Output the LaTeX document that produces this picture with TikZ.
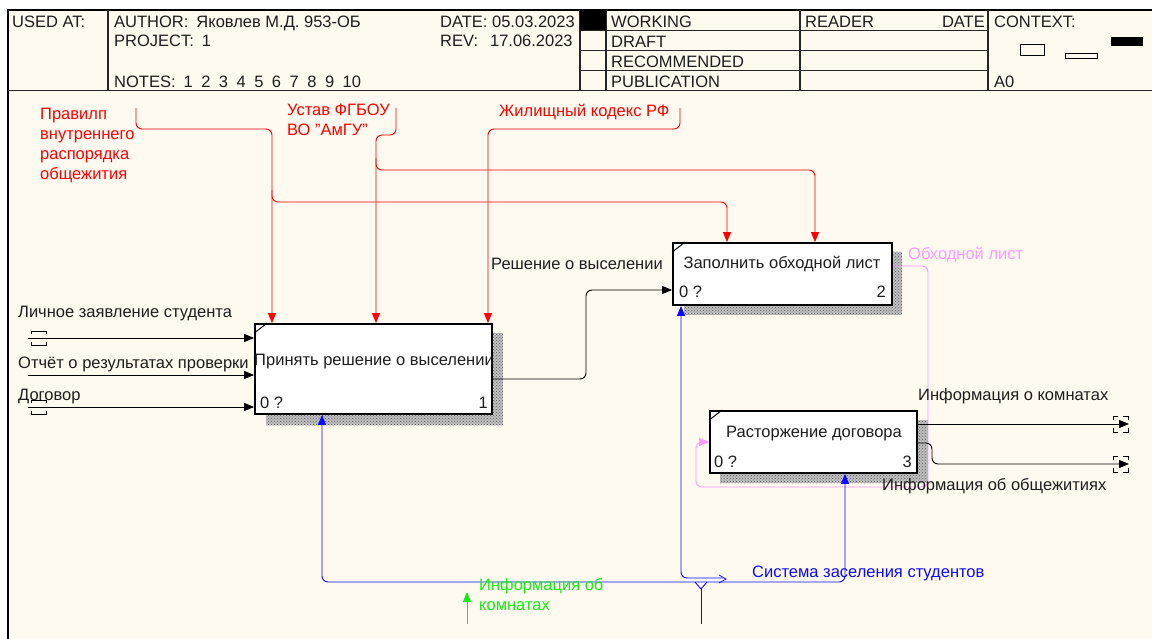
\documentclass[tikz,border=0pt]{standalone}
\usepackage{fontspec}
\setmainfont{Liberation Sans}
\usetikzlibrary{arrows.meta,calc,patterns}

\definecolor{paper}{HTML}{FFFAF0}
\definecolor{ink}{HTML}{1E1E1E}
\definecolor{ctlred}{HTML}{FF0000}
\definecolor{outpink}{HTML}{FF99FF}
\definecolor{mechblue}{HTML}{0A0AFF}
\definecolor{ingreen}{HTML}{11EE11}
\definecolor{hatch}{HTML}{5A5A5A}

\begin{document}
\begin{tikzpicture}[x=1pt,y=-1pt,
  font=\fontsize{16.5}{19}\selectfont,
  txt/.style={anchor=base west,inner sep=0pt,text=ink},
  txtc/.style={anchor=base,inner sep=0pt,text=ink},
  txte/.style={anchor=base east,inner sep=0pt,text=ink},
  actbox/.style={draw=black,line width=1.8pt,fill=white,inner sep=0pt},
  shade/.style={fill=black!25,postaction={pattern=crosshatch dots,pattern color=hatch}},
  tip/.style={-{Triangle[length=10pt,width=8pt]}},
  bothtip/.style={{Triangle[length=10pt,width=8pt]}-{Triangle[length=10pt,width=8pt]}},
  ctl/.style={draw=ctlred,line width=0.9pt,rounded corners=6pt},
  flow/.style={draw=black,line width=0.9pt,rounded corners=6pt},
  loop/.style={draw=outpink,line width=0.9pt,rounded corners=6pt},
  mech/.style={draw=mechblue,line width=0.9pt,rounded corners=6pt},
  hdr/.style={line width=1.2pt,draw=black!85},
  tun/.style={draw=black,line width=0.8pt}]

\useasboundingbox (0,0) rectangle (1152,639);
\fill[white] (0,0) rectangle (1152,639);
\fill[paper] (8,10) rectangle (1152,639);
\draw[line width=1.6pt] (8,639) -- (8,10) -- (1152,10);

% ---------- header frame ----------
\draw[hdr] (8,90.5) -- (1152,90.5);
\foreach \xx in {108,580,606,800,988} \draw[hdr] (\xx,10) -- (\xx,90.5);
\foreach \yy in {30.5,50.5,70.5} \draw[hdr] (580,\yy) -- (988,\yy);
\fill[black] (580,10) rectangle (606,30.5);

\node[txt] (usedat) at (12,28) {USED AT:};
\node[txt] (author) at (114,28) {AUTHOR:\hspace{8pt}Яковлев М.Д. 953-ОБ};
\node[txt] (project) at (114,47) {PROJECT:\hspace{8pt}1};
\node[txt] (notes) at (114,88) {NOTES:\hspace{8pt}1\hspace{8.5pt}2\hspace{8.5pt}3\hspace{8.5pt}4\hspace{8.5pt}5\hspace{8.5pt}6\hspace{8.5pt}7\hspace{8.5pt}8\hspace{8.5pt}9\hspace{8.5pt}10};
\node[txt] (date) at (440,28) {DATE: 05.03.2023};
\node[txt] (rev) at (440,47) {REV:\hspace{12pt}17.06.2023};
\node[txt] (working) at (611,28) {WORKING};
\node[txt] (draft) at (611,48) {DRAFT};
\node[txt] (recom) at (611,68) {RECOMMENDED};
\node[txt] (publ) at (611,88) {PUBLICATION};
\node[txt] (reader) at (805,28) {READER};
\node[txte] (rdate) at (985,28) {DATE};
\node[txt] (context) at (994,28) {CONTEXT:};
\node[txt] (nodeid) at (994,88) {A0};
\draw[line width=0.8pt] (1020,44) rectangle (1044,55);
\draw[line width=0.8pt] (1065,53) rectangle (1097,58);
\fill[black] (1111,37) rectangle (1143,46);

% ---------- activity boxes ----------
\path[shade] (266,333) rectangle (503,425);
\path[shade] (684,252) rectangle (902,315);
\path[shade] (720,420) rectangle (928,483);

\node[actbox,minimum width=237pt,minimum height=90pt] (b1) at (373.5,369) {};
\node[actbox,minimum width=219pt,minimum height=62pt] (b2) at (782.5,274) {};
\node[actbox,minimum width=207pt,minimum height=62pt] (b3) at (813.5,442) {};

\foreach \b in {b1,b2,b3}
  \draw[line width=1pt] ($(\b.north west)+(0,10)$) -- ($(\b.north west)+(13,0)$);

\node[txtc] (b1t) at (374,365) {Принять решение о выселении};
\node[txt] (b1o) at (260,408) {0 ?};
\node[txte] (b1n) at (488,408) {1};
\node[txtc] (b2t) at (782,269) {Заполнить обходной лист};
\node[txt] (b2o) at (679,298) {0 ?};
\node[txte] (b2n) at (886,298) {2};
\node[txtc] (b3t) at (814,437) {Расторжение договора};
\node[txt] (b3o) at (714,467) {0 ?};
\node[txte] (b3n) at (912,467) {3};

% ---------- controls ----------
\coordinate (c1) at (136,108);
\coordinate (j1) at (272,129);
\coordinate (k1) at (727,202);
\coordinate (c2) at (396,108);
\coordinate (j2) at (376,135);
\coordinate (k2) at (815,170);
\coordinate (c3) at (680,108);
\coordinate (j3) at (488,129);

\draw[ctl,tip] (c1) |- (j1) -- (j1 |- b1.north);
\draw[ctl,tip] (272,190) |- (k1) -- (k1 |- b2.north);
\draw[ctl,tip] (c2) |- (j2) -- (j2 |- b1.north);
\draw[ctl,tip] (376,158) |- (k2) -- (k2 |- b2.north);
\draw[ctl,tip] (c3) |- (j3) -- (j3 |- b1.north);

\begin{scope}[every node/.style={anchor=base west,inner sep=0pt,text=ctlred}]
\node (ctl1a) at (40,120) {Правилп};
\node (ctl1b) at (40,140) {внутреннего};
\node (ctl1c) at (40,160) {распорядка};
\node (ctl1d) at (40,180) {общежития};
\node (ctl2a) at (287,116) {Устав ФГБОУ};
\node (ctl2b) at (287,136) {ВО "АмГУ"};
\node (ctl3) at (499,117) {Жилищный кодекс РФ};
\end{scope}

% ---------- inputs ----------
\coordinate (i1) at (28,338);
\coordinate (i2) at (28,375);
\coordinate (i3) at (28,407);
\draw[flow,tip] (i1) -- (i1 -| b1.west);
\draw[flow,tip] (i2) -- (i2 -| b1.west);
\draw[flow,tip] (i3) -- (i3 -| b1.west);
\draw[tun] (31,334) -- (31,331) -- (46,331) -- (46,334);
\draw[tun] (31,342) -- (31,345) -- (46,345) -- (46,342);
\draw[tun] (31,403) -- (31,400) -- (46,400) -- (46,403);
\draw[tun] (31,411) -- (31,414) -- (46,414) -- (46,411);
\node[txt] (in1) at (18,318) {Личное заявление студента};
\node[txt] (in2) at (18,368) {Отчёт о результатах проверки};
\node[txt] (in3) at (18,400) {Договор};

% ---------- decision to clearance sheet ----------
\coordinate (t1) at (586,290);
\draw[flow,tip] ($(b1.east)+(0,10)$) -| (t1) -- (t1 -| b2.west);
\node[txt] (o1) at (491,270) {Решение о выселении};

% ---------- clearance sheet to termination ----------
\coordinate (p1) at (928,487);
\coordinate (p2) at (696,442);
\draw[loop,-{Triangle[length=10pt,width=8pt]}] ($(b2.east)+(0,-8)$) -| (p1) -| (p2) -- (p2 -| b3.west);
\node[anchor=base west,inner sep=0pt,text=outpink] (o2) at (908,260) {Обходной лист};

% ---------- outputs ----------
\coordinate (e1) at (1129,424);
\coordinate (e2) at (1129,464);
\draw[flow,tip] ($(b3.east)+(0,-18)$) -- (e1);
\draw[flow,tip] ($(b3.east)+(0,1)$) -- (932,443) |- (e2);
\foreach \yy in {424,464}{
  \draw[tun] (1118,\yy-8) -- (1113,\yy-8) -- (1113,\yy-4);
  \draw[tun] (1113,\yy+4) -- (1113,\yy+8) -- (1118,\yy+8);
  \draw[tun] (1123,\yy-8) -- (1128,\yy-8) -- (1128,\yy-4);
  \draw[tun] (1128,\yy+4) -- (1128,\yy+8) -- (1123,\yy+8);
}
\node[txt] (out1) at (918,400) {Информация о комнатах};
\node[txt] (out2) at (882,490) {Информация об общежитиях};

% ---------- mechanisms ----------
\coordinate (m0) at (701,624);
\coordinate (m1) at (322,582);
\coordinate (m2) at (845,582);
\coordinate (m3) at (681,578);
\coordinate (m4) at (723,578);
\draw[mech,bothtip] (m1 |- b1.south) -- (m1) -- (m2) -- (m2 |- b3.south);
\draw[mech,tip] (m4) -- (m3) -- (m3 |- b2.south);
\draw[draw=mechblue,line width=0.8pt] (719,575) -- (726,579) -- (719,583);
\draw[draw=mechblue,line width=0.9pt] (m0) -- (701,589);
\draw[draw=mechblue,line width=0.9pt] (695,582) -- (701,589) -- (707,582);
\node[anchor=base west,inner sep=0pt,text=mechblue] (mlab) at (752,577) {Система заселения студентов};

% ---------- green arrow ----------
\coordinate (g0) at (467,624);
\draw[draw=ingreen,line width=0.9pt,tip] (g0) -- (467,592);
\begin{scope}[every node/.style={anchor=base west,inner sep=0pt,text=ingreen}]
\node (g1) at (479,590) {Информация об};
\node (g2) at (479,610) {комнатах};
\end{scope}
\end{tikzpicture}
\end{document}
